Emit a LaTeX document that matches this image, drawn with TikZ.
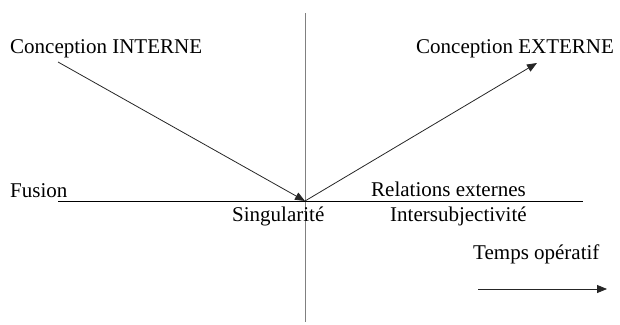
\documentclass[tikz,border=0pt]{standalone}
\usepackage{fontspec}
\setmainfont{Liberation Serif}
\usetikzlibrary{arrows.meta}

\tikzset{
  lbl/.style={anchor=base west,inner sep=0pt,font=\fontsize{21}{25}\selectfont},
  fleche/.style={draw=black!85,line width=0.8pt,-{Triangle[length=10pt,width=8pt]}},
  axe/.style={draw=black,line width=1pt}
}

\begin{document}
\begin{tikzpicture}[x=1pt,y=-1pt]
  \useasboundingbox (0,0) rectangle (620,324);

  %points
  \coordinate (O) at (305,201);
  \coordinate (haut) at (305,13);
  \coordinate (bas) at (305,322);
  \coordinate (gauche) at (58,201);
  \coordinate (droite) at (583,201);
  \coordinate (A) at (58,62);
  \coordinate (B) at (537,63);
  \coordinate (T1) at (478,289);
  \coordinate (T2) at (607,289);

  %axes
  \draw[gray,line width=0.7pt] (haut)--(bas);
  \draw[axe] (gauche)--(droite);

  %fleches
  \draw[fleche] (A)--(O);
  \draw[fleche] (O)--(B);
  \draw[fleche] (T1)--(T2);

  %textes
  \node[lbl] (interne) at (10,53) {Conception INTERNE};
  \node[lbl] (externe) at (416,53) {Conception EXTERNE};
  \node[lbl] (fusion) at (10,197) {Fusion};
  \node[lbl] (relations) at (371,196) {Relations externes};
  \node[lbl] (singularite) at (232,221) {Singularité};
  \node[lbl] (intersub) at (390,221) {Intersubjectivité};
  \node[lbl] (temps) at (473,259) {Temps opératif};
\end{tikzpicture}
\end{document}
